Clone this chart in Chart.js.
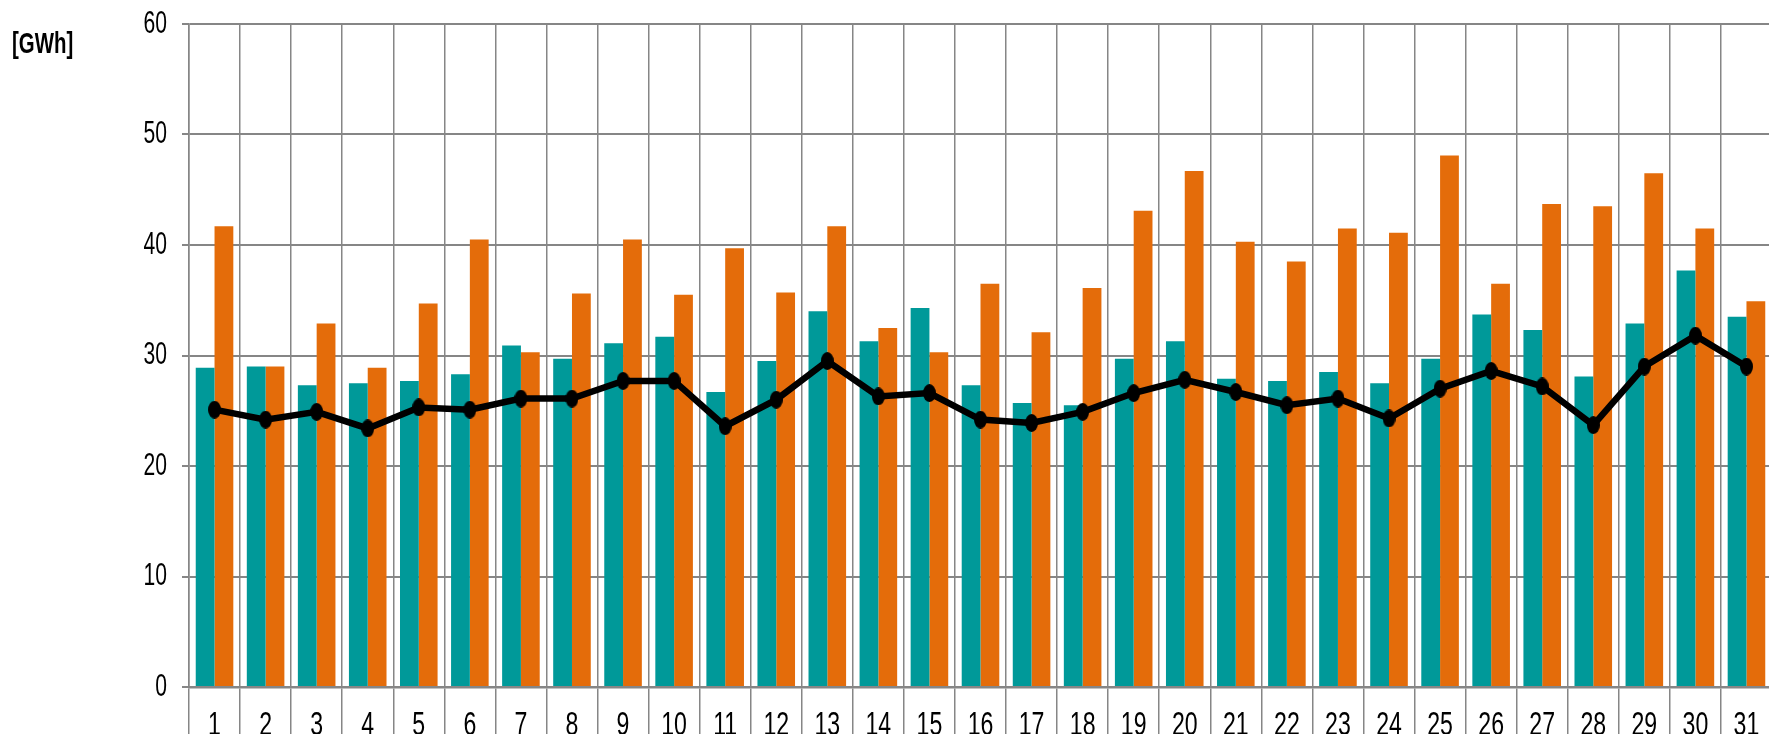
<!DOCTYPE html>
<html>
<head>
<meta charset="utf-8">
<script src="https://cdn.jsdelivr.net/npm/chart.js@4/dist/chart.umd.min.js"></script>
<style>
  html, body { margin: 0; padding: 0; background: #fff; overflow: hidden; }
  #wrap { position: absolute; left: 0; top: 0; width: 1772px; height: 760px; }
</style>
</head>
<body>
<div id="wrap"><canvas id="gwhChart" width="1772" height="760"></canvas></div>
<script>
// daily values, GWh
var days = ["1","2","3","4","5","6","7","8","9","10","11","12","13","14","15","16",
            "17","18","19","20","21","22","23","24","25","26","27","28","29","30","31"];
var tealVals = [28.9,29.0,27.3,27.5,27.7,28.3,30.9,29.7,31.1,31.7,26.7,29.5,34.0,31.3,34.3,27.3,
                25.7,25.5,29.7,31.3,27.9,27.7,28.5,27.5,29.7,33.7,32.3,28.1,32.9,37.7,33.5];
var orangeVals = [41.7,29.0,32.9,28.9,34.7,40.5,30.3,35.6,40.5,35.5,39.7,35.7,41.7,32.5,30.3,36.5,
                  32.1,36.1,43.1,46.7,40.3,38.5,41.5,41.1,48.1,36.5,43.7,43.5,46.5,41.5,34.9];
var lineVals = [25.1,24.2,24.9,23.4,25.3,25.1,26.1,26.1,27.7,27.7,23.6,26.0,29.5,26.3,26.6,24.2,
                23.9,24.9,26.6,27.8,26.7,25.5,26.1,24.3,27.0,28.6,27.2,23.7,29.0,31.8,29.0];
var yMin = 0, yMax = 60, yStep = 10;
var unitLabel = "[GWh]";

var FONT = "'Liberation Sans', Arial, sans-serif";
var GRID = "#868686";
var SQUEEZE = 0.68; // the original text is a narrow face

// slightly tall ellipse used as the marker of the black line
function ellipseMarker(w, h) {
  var c = document.createElement("canvas");
  c.width = w; c.height = h;
  var g = c.getContext("2d");
  g.fillStyle = "#000";
  g.beginPath();
  g.ellipse(w / 2, h / 2, w / 2, h / 2, 0, 0, Math.PI * 2);
  g.fill();
  return c;
}

function narrowText(ctx, text, x, y, align, baseline, font) {
  ctx.save();
  ctx.translate(x, y);
  ctx.scale(SQUEEZE, 1);
  ctx.font = font;
  ctx.fillStyle = "#000";
  ctx.textAlign = align;
  ctx.textBaseline = baseline;
  ctx.fillText(text, 0, 0);
  ctx.restore();
}

// tick labels and the unit, placed from the chart's own scales
var labelPlugin = {
  id: "narrowLabels",
  afterDraw: function(chart) {
    var ctx = chart.ctx;
    var xs = chart.scales.x, ys = chart.scales.y;
    ys.ticks.forEach(function(t, i) {
      narrowText(ctx, String(t.value), ys.right - 22, ys.getPixelForTick(i), "right", "middle", "31px " + FONT);
    });
    xs.ticks.forEach(function(t, i) {
      narrowText(ctx, days[i], xs.getPixelForTick(i), 735, "center", "alphabetic", "34px " + FONT);
    });
    narrowText(ctx, unitLabel, 12, 53, "left", "alphabetic", "bold 30px " + FONT);
  }
};

var ctx = document.getElementById("gwhChart");
var gwhChart = new Chart(ctx, {
  type: "bar",
  data: {
    labels: days,
    datasets: [
      {
        type: "line",
        label: "line",
        data: lineVals,
        borderColor: "#000",
        borderWidth: 6.5,
        pointStyle: ellipseMarker(13, 18),
        pointRadius: 8,
        tension: 0,
        order: 0
      },
      {
        label: "teal",
        data: tealVals,
        backgroundColor: "#009999",
        order: 1
      },
      {
        label: "orange",
        data: orangeVals,
        backgroundColor: "#e46c0a",
        order: 1
      }
    ]
  },
  options: {
    responsive: false,
    animation: false,
    devicePixelRatio: 1,
    layout: { autoPadding: false, padding: { top: 24, right: 0, bottom: 0, left: 0 } },
    plugins: { legend: { display: false }, tooltip: { enabled: false } },
    datasets: { bar: { categoryPercentage: 0.736, barPercentage: 1 } },
    scales: {
      x: {
        grid: { color: GRID, lineWidth: 1.5, offset: true, tickLength: 80 },
        border: { color: GRID, width: 2.5 },
        ticks: { display: false, autoSkip: false },
        afterFit: function(scale) { scale.height = 73; }
      },
      y: {
        min: yMin,
        max: yMax,
        grid: { color: GRID, lineWidth: 2, tickLength: 7 },
        border: { color: GRID, width: 1.5 },
        ticks: { stepSize: yStep, display: false },
        afterFit: function(scale) { scale.width = 189; }
      }
    }
  },
  plugins: [labelPlugin]
});
</script>
</body>
</html>
